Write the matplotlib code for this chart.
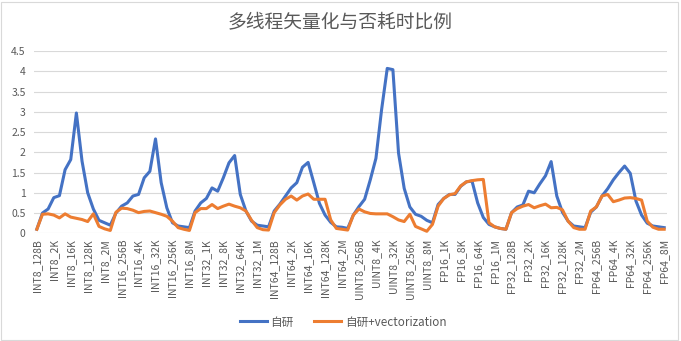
import matplotlib
matplotlib.use("Agg")
import matplotlib.pyplot as plt
from matplotlib.patches import Rectangle

plt.rcParams['font.family'] = ['Noto Sans CJK SC', 'DejaVu Sans']

types = ["INT8", "INT16", "INT32", "INT64", "UINT8", "FP16", "FP32", "FP64"]
sizes = ["128B", "256B", "1K", "2K", "4K", "8K", "16K", "32K", "64K",
         "128K", "256K", "1M", "2M", "8M"]
categories = [t + "_" + s for t in types for s in sizes]

# 自研
own = [
    0.10, 0.50, 0.60, 0.88, 0.93, 1.57, 1.82, 2.97, 1.78, 1.00, 0.60, 0.32, 0.26, 0.20,
    0.50, 0.67, 0.75, 0.92, 0.96, 1.37, 1.53, 2.33, 1.25, 0.63, 0.26, 0.18, 0.16, 0.14,
    0.55, 0.75, 0.86, 1.12, 1.04, 1.37, 1.74, 1.92, 0.96, 0.55, 0.30, 0.20, 0.18, 0.16,
    0.55, 0.72, 0.92, 1.12, 1.25, 1.63, 1.75, 1.25, 0.74, 0.45, 0.27, 0.16, 0.15, 0.12,
    0.45, 0.66, 0.84, 1.32, 1.85, 3.05, 4.07, 4.04, 1.98, 1.11, 0.65, 0.47, 0.42, 0.32,
    0.26, 0.71, 0.86, 0.96, 0.96, 1.16, 1.27, 1.29, 0.75, 0.39, 0.22, 0.16, 0.12, 0.10,
    0.51, 0.65, 0.70, 1.04, 1.00, 1.22, 1.42, 1.77, 0.92, 0.52, 0.30, 0.18, 0.16, 0.14,
    0.52, 0.65, 0.92, 1.10, 1.32, 1.50, 1.66, 1.48, 0.80, 0.45, 0.25, 0.18, 0.16, 0.14,
]

# 自研+vectorization
own_vec = [
    0.10, 0.47, 0.48, 0.45, 0.38, 0.48, 0.40, 0.37, 0.34, 0.29, 0.48, 0.17, 0.11, 0.07,
    0.52, 0.62, 0.61, 0.57, 0.51, 0.54, 0.55, 0.51, 0.47, 0.42, 0.30, 0.14, 0.10, 0.07,
    0.51, 0.61, 0.61, 0.71, 0.61, 0.67, 0.72, 0.67, 0.63, 0.55, 0.32, 0.14, 0.09, 0.08,
    0.51, 0.70, 0.84, 0.92, 0.82, 0.92, 0.97, 0.84, 0.84, 0.84, 0.33, 0.12, 0.10, 0.08,
    0.45, 0.60, 0.53, 0.49, 0.48, 0.48, 0.48, 0.41, 0.33, 0.29, 0.47, 0.17, 0.11, 0.05,
    0.22, 0.67, 0.86, 0.95, 0.98, 1.17, 1.27, 1.30, 1.32, 1.33, 0.26, 0.16, 0.12, 0.10,
    0.51, 0.61, 0.67, 0.71, 0.63, 0.68, 0.72, 0.63, 0.64, 0.58, 0.30, 0.14, 0.10, 0.10,
    0.55, 0.65, 0.92, 0.96, 0.78, 0.82, 0.87, 0.88, 0.86, 0.82, 0.30, 0.15, 0.10, 0.10,
]

W, H = 681, 341
fig = plt.figure(figsize=(W / 100, H / 100), dpi=100)
ax = fig.add_axes([34 / W, 1 - 233.3 / H, (667 - 34) / W, (233.3 - 51) / H])

x = list(range(len(categories)))
ax.plot(x, own, color="#4472C4", lw=2.2, label="自研", solid_joinstyle="round")
ax.plot(x, own_vec, color="#ED7D31", lw=2.2, label="自研+vectorization",
        solid_joinstyle="round")

ax.set_xlim(-0.5, len(categories) - 0.5)
ax.set_ylim(0, 4.5)
yt = [i * 0.5 for i in range(10)]
ax.set_yticks(yt)
ax.set_yticklabels(["%g" % v for v in yt])
ax.set_xticks(x[::3])
ax.set_xticklabels(categories[::3], rotation=90)
ax.tick_params(axis="both", length=0, colors="#595959", labelsize=7.5)
ax.tick_params(axis="x", pad=4)
ax.tick_params(axis="y", pad=6)

ax.grid(axis="y", color="#D9D9D9", lw=0.8)
ax.set_axisbelow(True)
for s in ax.spines.values():
    s.set_visible(False)

fig.text(0.5, 1 - 22 / H, "多线程矢量化与否耗时比例", ha="center", va="center",
         fontsize=13.5, color="#595959")

fig.legend(loc="center", bbox_to_anchor=(343 / W, 1 - 322 / H), ncol=2,
           frameon=False, fontsize=8.4, handlelength=2.3, columnspacing=1.8,
           handletextpad=0.3, labelcolor="#595959")

fig.patches.append(Rectangle((0.5 / W, 1.5 / H), 677 / W, 338 / H,
                             transform=fig.transFigure, fill=False,
                             edgecolor="#D9D9D9", lw=0.8))

fig.savefig("out.png", dpi=100, facecolor="white")
